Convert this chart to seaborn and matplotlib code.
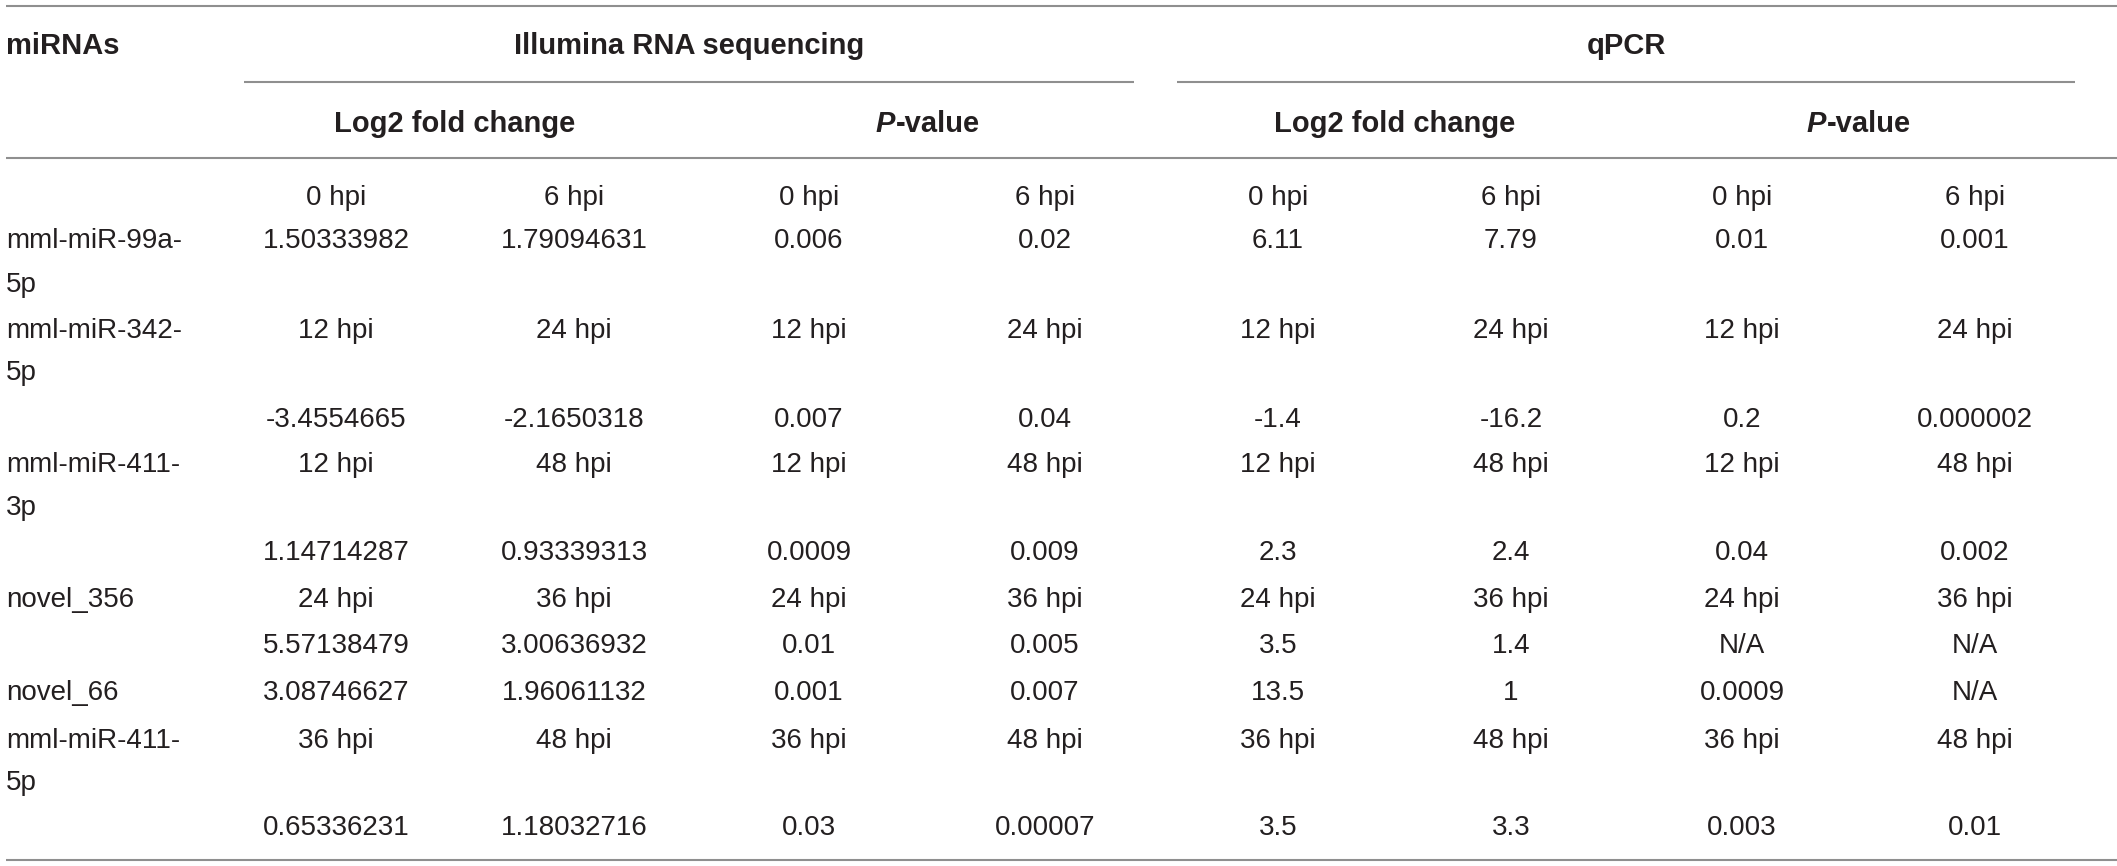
import matplotlib
matplotlib.use("Agg")
import matplotlib.pyplot as plt
import seaborn as sns

# ---------------- data ----------------
group_headers = ["Illumina RNA sequencing", "qPCR"]
sub_headers = ["Log2 fold change", "P-value", "Log2 fold change", "P-value"]
first_header = "miRNAs"

mirna_labels = [
    ("mml-miR-99a-", "5p"),
    ("mml-miR-342-", "5p"),
    ("mml-miR-411-", "3p"),
    ("novel_356", ""),
    ("novel_66", ""),
    ("mml-miR-411-", "5p"),
]

times_0_6 = ["0 hpi", "6 hpi", "0 hpi", "6 hpi", "0 hpi", "6 hpi", "0 hpi", "6 hpi"]
vals_99a = ["1.50333982", "1.79094631", "0.006", "0.02", "6.11", "7.79", "0.01", "0.001"]
times_342 = ["12 hpi", "24 hpi", "12 hpi", "24 hpi", "12 hpi", "24 hpi", "12 hpi", "24 hpi"]
vals_342 = ["-3.4554665", "-2.1650318", "0.007", "0.04", "-1.4", "-16.2", "0.2", "0.000002"]
times_411_3p = ["12 hpi", "48 hpi", "12 hpi", "48 hpi", "12 hpi", "48 hpi", "12 hpi", "48 hpi"]
vals_411_3p = ["1.14714287", "0.93339313", "0.0009", "0.009", "2.3", "2.4", "0.04", "0.002"]
times_356 = ["24 hpi", "36 hpi", "24 hpi", "36 hpi", "24 hpi", "36 hpi", "24 hpi", "36 hpi"]
vals_356 = ["5.57138479", "3.00636932", "0.01", "0.005", "3.5", "1.4", "N/A", "N/A"]
vals_66 = ["3.08746627", "1.96061132", "0.001", "0.007", "13.5", "1", "0.0009", "N/A"]
times_411_5p = ["36 hpi", "48 hpi", "36 hpi", "48 hpi", "36 hpi", "48 hpi", "36 hpi", "48 hpi"]
vals_411_5p = ["0.65336231", "1.18032716", "0.03", "0.00007", "3.5", "3.3", "0.003", "0.01"]

body_rows = [times_0_6, vals_99a, times_342, vals_342, times_411_3p, vals_411_3p,
             times_356, vals_356, vals_66, times_411_5p, vals_411_5p]

# ---------------- layout (pixels) ----------------
W, H = 2117, 866
col_x = [336, 574, 809, 1045, 1278, 1511, 1742, 1975]
body_y = [195, 238, 328, 417, 462, 550, 597, 643, 690, 738, 825]
label_y = [(238, 282), (328, 370), (462, 505), (597, None), (690, None), (738, 780)]
label_x = 6
head1_y, head2_y = 43, 122
group_centers = [689, 1626]
line_top, line_mid, line_sub, line_bot = 6, 82, 158, 860
group_spans = [(244, 1134), (1177, 2075)]

sns.set_theme(style="white")
plt.rcParams["font.family"] = ["Liberation Sans", "DejaVu Sans"]

fig = plt.figure(figsize=(W / 100, H / 100), dpi=100)
ax = fig.add_axes([0, 0, 1, 1])
ax.set_xlim(0, W)
ax.set_ylim(H, 0)
ax.axis("off")

body_fs, head_fs = 20, 21
body_col, head_col, line_col = "#231f20", "#231f20", "#8f8f8f"
body_off, head_off = 10, 10.5
lw = 1.5

# rules
for y in (line_top, line_sub, line_bot):
    ax.plot([6, W], [y, y], color=line_col, lw=lw, solid_capstyle="butt")
for x0, x1 in group_spans:
    ax.plot([x0, x1], [line_mid, line_mid], color=line_col, lw=lw, solid_capstyle="butt")

# headers
ax.text(label_x, head1_y + head_off, first_header, ha="left", va="baseline",
        fontsize=head_fs, fontweight="bold", color=head_col)
for gx, g in zip(group_centers, group_headers):
    ax.text(gx, head1_y + head_off, g, ha="center", va="baseline",
            fontsize=head_fs, fontweight="bold", color=head_col)

renderer = fig.canvas.get_renderer()
for i, sh in enumerate(sub_headers):
    cx = (col_x[2 * i] + col_x[2 * i + 1]) / 2
    if sh.startswith("P-"):
        t1 = ax.text(cx, head2_y + head_off, "P", ha="left", va="baseline",
                     fontsize=head_fs, fontweight="bold", fontstyle="italic", color=head_col)
        t2 = ax.text(cx, head2_y + head_off, sh[1:], ha="left", va="baseline",
                     fontsize=head_fs, fontweight="bold", color=head_col)
        w1 = t1.get_window_extent(renderer).width
        w2 = t2.get_window_extent(renderer).width
        start = cx - (w1 + w2) / 2
        t1.set_x(start)
        t2.set_x(start + w1 + 1)
    else:
        ax.text(cx, head2_y + head_off, sh, ha="center", va="baseline",
                fontsize=head_fs, fontweight="bold", color=head_col)

# miRNA labels
for (l1, l2), (y1, y2) in zip(mirna_labels, label_y):
    ax.text(label_x, y1 + body_off, l1, ha="left", va="baseline",
            fontsize=body_fs, color=body_col)
    if l2 and y2 is not None:
        ax.text(label_x, y2 + body_off, l2, ha="left", va="baseline",
                fontsize=body_fs, color=body_col)

# body cells
for row, y in zip(body_rows, body_y):
    for x, v in zip(col_x, row):
        ax.text(x, y + body_off, v, ha="center", va="baseline",
                fontsize=body_fs, color=body_col)

fig.savefig("out.png", dpi=100)
